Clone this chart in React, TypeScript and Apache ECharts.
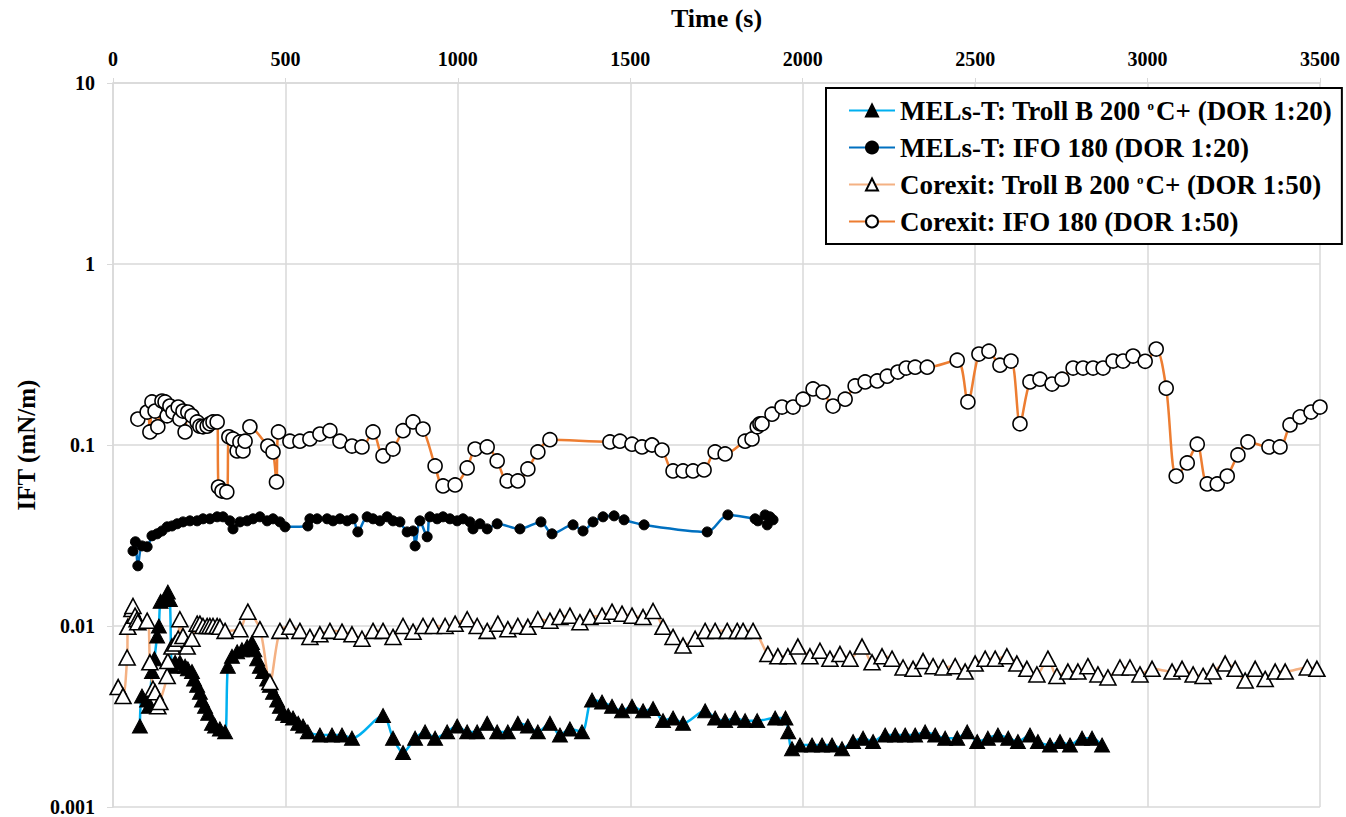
import React, { useEffect, useRef } from "react";
import * as echarts from "echarts";

const FONT = "'Liberation Serif', 'Times New Roman', serif";

const seriesNames = [
  "MELs-T: Troll B 200 °C+ (DOR 1:20)",
  "MELs-T: IFO 180 (DOR 1:20)",
  "Corexit: Troll B 200 °C+ (DOR 1:50)",
  "Corexit: IFO 180 (DOR 1:50)",
];

const xTicks = [0, 500, 1000, 1500, 2000, 2500, 3000, 3500];
const yTicks = [0.001, 0.01, 0.1, 1, 10];

// MELs-T: Troll B 200 °C+ (DOR 1:20) — [time s, IFT mN/m]
const melsTroll: number[][] = [
  [78, 0.0028], [84, 0.0041], [99, 0.0039], [104, 0.0036], [113, 0.0056], [120, 0.0066],
  [128, 0.0088], [133, 0.0100], [138, 0.0137], [150, 0.0140], [159, 0.0154], [165, 0.0140],
  [171, 0.0060], [180, 0.0063], [194, 0.0063], [209, 0.0060], [217, 0.0058], [229, 0.0056],
  [235, 0.0051], [244, 0.0047], [252, 0.0043], [258, 0.0039], [267, 0.0036], [276, 0.0033],
  [287, 0.0029], [296, 0.0028], [310, 0.0027], [325, 0.0026], [333, 0.0060], [345, 0.0068],
  [360, 0.0072], [374, 0.0074], [389, 0.0077], [403, 0.0081], [410, 0.0074], [418, 0.0066],
  [426, 0.0060], [435, 0.0056], [447, 0.0051], [455, 0.0047], [464, 0.0043], [476, 0.0039],
  [484, 0.0036], [493, 0.0033], [508, 0.0032], [522, 0.0031], [537, 0.0029], [551, 0.0028],
  [565, 0.0026], [600, 0.0025], [635, 0.0025], [664, 0.0025], [693, 0.0024], [783, 0.0032],
  [812, 0.0024], [841, 0.0020], [876, 0.0024], [905, 0.0026], [934, 0.0024], [969, 0.0026],
  [998, 0.0028], [1027, 0.0026], [1056, 0.0026], [1085, 0.0029], [1114, 0.0026], [1145, 0.0026],
  [1174, 0.0029], [1203, 0.0028], [1232, 0.0026], [1267, 0.0029], [1296, 0.0025], [1325, 0.0027],
  [1360, 0.0026], [1389, 0.0039], [1418, 0.0038], [1447, 0.0036], [1476, 0.0034], [1505, 0.0036],
  [1537, 0.0034], [1566, 0.0035], [1595, 0.0030], [1624, 0.0031], [1653, 0.0029], [1717, 0.0034],
  [1746, 0.0031], [1775, 0.0030], [1804, 0.0031], [1833, 0.0030], [1868, 0.0030], [1920, 0.0031],
  [1950, 0.0031], [1958, 0.0026], [1969, 0.0021], [1992, 0.0022], [2027, 0.0022], [2056, 0.0022],
  [2085, 0.0022], [2114, 0.0021], [2146, 0.0023], [2175, 0.0024], [2204, 0.0023], [2239, 0.0025],
  [2268, 0.0025], [2297, 0.0025], [2326, 0.0025], [2355, 0.0026], [2384, 0.0025], [2413, 0.0024],
  [2448, 0.0024], [2477, 0.0026], [2506, 0.0023], [2537, 0.0024], [2566, 0.0025], [2596, 0.0024],
  [2624, 0.0023], [2659, 0.0025], [2682, 0.0023], [2717, 0.0022], [2746, 0.0023], [2775, 0.0022],
  [2810, 0.0024], [2839, 0.0024], [2868, 0.0022],
];

// MELs-T: IFO 180 (DOR 1:20)
const melsIfo: number[][] = [
  [58, 0.026], [65, 0.0292], [72, 0.0215], [84, 0.0277], [99, 0.0274], [113, 0.0315],
  [128, 0.0323], [142, 0.0335], [157, 0.0353], [171, 0.0357], [186, 0.0367], [203, 0.0376],
  [223, 0.0381], [244, 0.0381], [261, 0.0391], [281, 0.0391], [302, 0.0401], [319, 0.0401],
  [339, 0.0381], [348, 0.0344], [368, 0.0376], [389, 0.0381], [406, 0.0391], [426, 0.0401],
  [447, 0.0381], [464, 0.0391], [484, 0.0376], [499, 0.0353], [565, 0.0357], [571, 0.0391],
  [592, 0.0391], [621, 0.0391], [638, 0.0381], [658, 0.0391], [679, 0.0381], [696, 0.0391],
  [710, 0.0331], [737, 0.0401], [754, 0.0391], [774, 0.0381], [795, 0.0401], [812, 0.0381],
  [832, 0.0376], [853, 0.0331], [870, 0.0335], [876, 0.0277], [890, 0.0381], [911, 0.0311],
  [919, 0.0401], [940, 0.0391], [957, 0.0401], [977, 0.0391], [998, 0.0381], [1015, 0.0391],
  [1035, 0.0376], [1044, 0.0344], [1064, 0.0367], [1085, 0.0344], [1114, 0.0367], [1180, 0.0344],
  [1241, 0.0376], [1273, 0.0323], [1334, 0.0362], [1363, 0.0335], [1392, 0.0376], [1421, 0.0401],
  [1453, 0.0406], [1482, 0.0386], [1540, 0.0362], [1723, 0.0331], [1783, 0.0411], [1862, 0.0391],
  [1870, 0.0381], [1891, 0.0411], [1897, 0.0362], [1905, 0.0401], [1914, 0.0386],
];

// Corexit: Troll B 200 °C+ (DOR 1:50)
const corexitTroll: number[][] = [
  [15, 0.0046], [29, 0.0041], [41, 0.0067], [43, 0.0099], [55, 0.0124], [58, 0.0129],
  [64, 0.0114], [70, 0.0109], [72, 0.0105], [99, 0.0107], [107, 0.0063], [116, 0.0045],
  [122, 0.0043], [130, 0.0036], [136, 0.0038], [157, 0.0053], [159, 0.0064], [171, 0.0077],
  [180, 0.0080], [189, 0.0085], [194, 0.0109], [203, 0.0088], [215, 0.0077], [229, 0.0085],
  [244, 0.0103], [252, 0.0103], [261, 0.0100], [273, 0.0100], [281, 0.0100], [290, 0.0100],
  [302, 0.0100], [310, 0.0099], [325, 0.0094], [368, 0.0096], [391, 0.0120], [426, 0.0096],
  [455, 0.0049], [484, 0.0094], [513, 0.0099], [542, 0.0094], [571, 0.0087], [600, 0.0090],
  [629, 0.0094], [664, 0.0093], [693, 0.0090], [722, 0.0085], [754, 0.0094], [783, 0.0094],
  [812, 0.0087], [841, 0.0100], [870, 0.0093], [899, 0.0100], [928, 0.0100], [963, 0.0100],
  [992, 0.0103], [1027, 0.0109], [1056, 0.0100], [1085, 0.0094], [1116, 0.0103], [1145, 0.0096],
  [1174, 0.0100], [1203, 0.0099], [1232, 0.0109], [1267, 0.0107], [1296, 0.0112], [1325, 0.0114],
  [1354, 0.0105], [1383, 0.0112], [1418, 0.0114], [1447, 0.0120], [1476, 0.0117], [1505, 0.0114],
  [1537, 0.0112], [1566, 0.0121], [1595, 0.0099], [1624, 0.0087], [1653, 0.0078], [1688, 0.0085],
  [1717, 0.0094], [1746, 0.0094], [1781, 0.0094], [1810, 0.0094], [1827, 0.0094], [1856, 0.0094],
  [1899, 0.0070], [1928, 0.0068], [1957, 0.0068], [1986, 0.0077], [2021, 0.0068], [2050, 0.0073],
  [2079, 0.0066], [2108, 0.0070], [2137, 0.0066], [2172, 0.0077], [2201, 0.0063], [2230, 0.0068],
  [2259, 0.0066], [2291, 0.0059], [2320, 0.0058], [2349, 0.0064], [2378, 0.0060], [2407, 0.0059],
  [2442, 0.0060], [2471, 0.0056], [2500, 0.0062], [2529, 0.0066], [2558, 0.0066], [2592, 0.0068],
  [2621, 0.0062], [2650, 0.0058], [2679, 0.0054], [2711, 0.0066], [2737, 0.0053], [2769, 0.0056],
  [2798, 0.0056], [2827, 0.0060], [2856, 0.0054], [2885, 0.0052], [2920, 0.0059], [2949, 0.0059],
  [2978, 0.0054], [3013, 0.0058], [3071, 0.0056], [3100, 0.0058], [3132, 0.0054], [3161, 0.0053],
  [3190, 0.0056], [3225, 0.0062], [3254, 0.0058], [3283, 0.0050], [3312, 0.0058], [3341, 0.0051],
  [3370, 0.0056], [3399, 0.0056], [3463, 0.0059], [3491, 0.0058],
];

// Corexit: IFO 180 (DOR 1:50)
const corexitIfo: number[][] = [
  [72, 0.139], [99, 0.152], [107, 0.118], [113, 0.173], [122, 0.154], [130, 0.126],
  [142, 0.175], [151, 0.173], [157, 0.145], [165, 0.164], [174, 0.152], [189, 0.162],
  [194, 0.139], [203, 0.154], [209, 0.118], [217, 0.152], [229, 0.145], [244, 0.134],
  [252, 0.127], [261, 0.126], [273, 0.127], [281, 0.131], [290, 0.134], [302, 0.134],
  [306, 0.0586], [316, 0.0557], [330, 0.055], [336, 0.111], [348, 0.108], [360, 0.0927],
  [368, 0.104], [377, 0.0927], [383, 0.105], [397, 0.126], [449, 0.0987], [464, 0.0915],
  [474, 0.0625], [480, 0.118], [513, 0.105], [542, 0.105], [571, 0.108], [600, 0.115],
  [629, 0.12], [658, 0.105], [693, 0.0987], [722, 0.0975], [754, 0.118], [783, 0.087],
  [812, 0.095], [841, 0.12], [870, 0.134], [899, 0.1225], [934, 0.0766], [957, 0.0594],
  [992, 0.0602], [1027, 0.0747], [1050, 0.095], [1085, 0.0975], [1114, 0.0816], [1143, 0.0633],
  [1174, 0.0633], [1203, 0.0737], [1232, 0.0915], [1267, 0.107], [1441, 0.104], [1470, 0.105],
  [1505, 0.101], [1534, 0.0975], [1563, 0.1], [1592, 0.0938], [1624, 0.0719], [1653, 0.0719],
  [1682, 0.0719], [1714, 0.0728], [1746, 0.0915], [1775, 0.0892], [1833, 0.105], [1853, 0.108],
  [1868, 0.126], [1876, 0.131], [1882, 0.131], [1911, 0.148], [1940, 0.162], [1972, 0.162],
  [2001, 0.179], [2030, 0.204], [2059, 0.196], [2088, 0.164], [2123, 0.179], [2152, 0.212],
  [2181, 0.223], [2216, 0.226], [2245, 0.24], [2276, 0.253], [2300, 0.266], [2326, 0.269],
  [2361, 0.269], [2448, 0.294], [2479, 0.173], [2511, 0.318], [2540, 0.33], [2572, 0.276],
  [2604, 0.291], [2630, 0.131], [2659, 0.223], [2688, 0.231], [2723, 0.217], [2752, 0.231],
  [2784, 0.266], [2813, 0.266], [2842, 0.266], [2871, 0.266], [2900, 0.291], [2929, 0.291],
  [2958, 0.31], [2993, 0.29], [3025, 0.339], [3054, 0.206], [3083, 0.0674], [3115, 0.0796],
  [3144, 0.101], [3173, 0.0609], [3202, 0.0609], [3231, 0.0674], [3262, 0.0881], [3291, 0.104],
  [3352, 0.0975], [3384, 0.0975], [3413, 0.129], [3442, 0.143], [3474, 0.152], [3500, 0.162],
];

const GRID_COLOR = "#d9d9d9";

function fmtY(v: number): string {
  if (v >= 1) return String(Math.round(v));
  const d = Math.round(-Math.log10(v));
  return v.toFixed(d);
}

export default function App() {
  const ref = useRef<HTMLDivElement>(null);

  useEffect(() => {
    if (!ref.current) return;
    const chart = echarts.init(ref.current, undefined, { renderer: "svg" });
    const textBase = { fontFamily: FONT, fontWeight: "bold" as const, color: "#000" };

    const option: any = {
      animation: false,
      backgroundColor: "#fff",
      grid: { left: 113, right: 26, top: 83, bottom: 10, outerBoundsMode: "none" },
      legend: {
        orient: "vertical",
        left: 826,
        top: 88,
        backgroundColor: "#fff",
        borderColor: "#000",
        borderWidth: 2,
        padding: [9, 10, 9, 22],
        itemGap: 10,
        itemWidth: 46,
        itemHeight: 15,
        data: seriesNames,
        formatter: (name: string) => name.replace("°", "{s|o}"),
        textStyle: {
          ...textBase,
          fontSize: 27,
          rich: {
            s: { ...textBase, fontSize: 13, padding: [0, 2, 10, 0] },
          },
        },
      },
      xAxis: {
        type: "value",
        position: "top",
        min: xTicks[0],
        max: xTicks[xTicks.length - 1],
        interval: 500,
        name: "Time (s)",
        nameLocation: "middle",
        nameGap: 52,
        nameTextStyle: { ...textBase, fontSize: 26 },
        axisLine: { show: true, lineStyle: { color: GRID_COLOR, width: 1.5 } },
        axisTick: { show: true, length: 5, lineStyle: { color: GRID_COLOR } },
        axisLabel: { ...textBase, fontSize: 20, margin: 14, formatter: (v: number) => String(v) },
        splitLine: { show: true, lineStyle: { color: GRID_COLOR, width: 1.5 } },
      },
      yAxis: {
        type: "log",
        logBase: 10,
        min: yTicks[0],
        max: yTicks[yTicks.length - 1],
        name: "IFT (mN/m)",
        nameLocation: "middle",
        nameGap: 72,
        nameRotate: 90,
        nameTextStyle: { ...textBase, fontSize: 25 },
        axisLine: { show: true, lineStyle: { color: GRID_COLOR, width: 1.5 } },
        axisTick: { show: true, length: 6, lineStyle: { color: GRID_COLOR } },
        axisLabel: { ...textBase, fontSize: 20, lineHeight: 15, margin: 18, formatter: fmtY },
        splitLine: { show: true, lineStyle: { color: GRID_COLOR, width: 1.5 } },
        minorTick: { show: false },
      },
      series: [
        {
          name: seriesNames[0],
          type: "line",
          data: melsTroll,
          smooth: 0.3,
          symbol: "triangle",
          symbolSize: [15, 14],
          lineStyle: { color: "#00b0f0", width: 2.5 },
          itemStyle: { color: "#000", borderColor: "#000", borderWidth: 1 },
        },
        {
          name: seriesNames[1],
          type: "line",
          data: melsIfo,
          smooth: 0.3,
          symbol: "circle",
          symbolSize: 10,
          lineStyle: { color: "#0070c0", width: 2.5 },
          itemStyle: { color: "#000", borderColor: "#000", borderWidth: 1 },
        },
        {
          name: seriesNames[2],
          type: "line",
          data: corexitTroll,
          smooth: 0.3,
          symbol: "triangle",
          symbolSize: [16, 15],
          lineStyle: { color: "#f4b183", width: 2.5 },
          itemStyle: { color: "#fff", borderColor: "#000", borderWidth: 1.6 },
        },
        {
          name: seriesNames[3],
          type: "line",
          data: corexitIfo,
          smooth: 0.3,
          symbol: "circle",
          symbolSize: 14,
          lineStyle: { color: "#ed7d31", width: 2.5 },
          itemStyle: { color: "#fff", borderColor: "#000", borderWidth: 1.6 },
        },
      ],
    };
    chart.setOption(option);
    return () => chart.dispose();
  }, []);

  return (
    <div
      ref={ref}
      style={{ position: "fixed", left: 0, top: 0, width: 1346, height: 817, background: "#fff" }}
    />
  );
}
